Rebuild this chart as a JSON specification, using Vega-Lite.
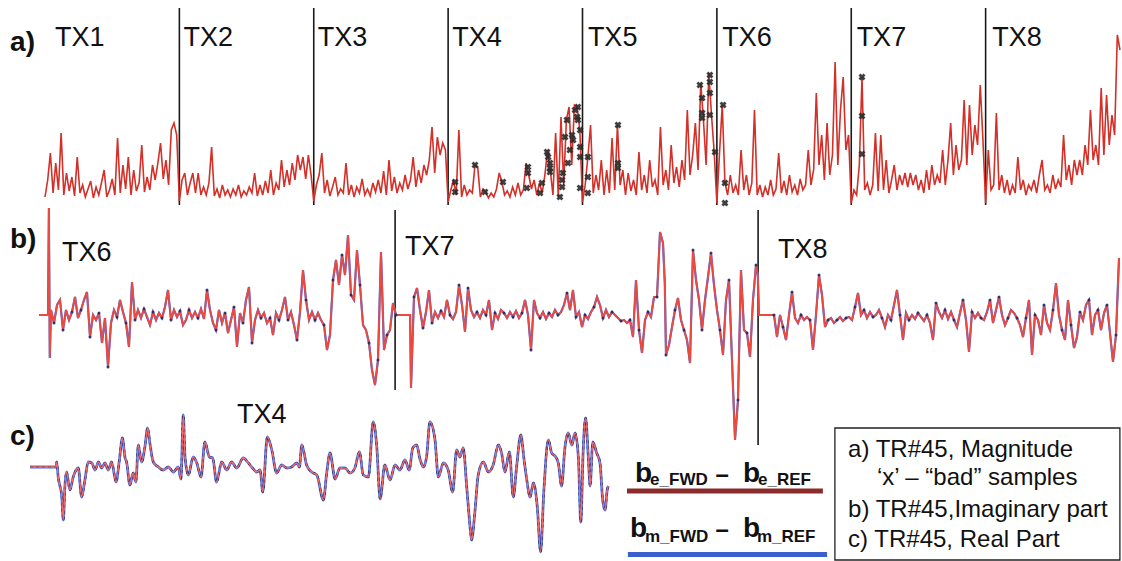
{
"$schema":"https://vega.github.io/schema/vega-lite/v6.json",
"padding":0,"background":"white","spacing":0,"bounds":"flush",
"config":{"view":{"stroke":null},"font":"Liberation Sans"},
"datasets":{
"a":[{"i":0,"v":0.8},{"i":1,"v":2.5},{"i":2,"v":5.2},{"i":3,"v":1.2},{"i":4,"v":4.2},{"i":5,"v":1.5},{"i":6,"v":7.2},{"i":7,"v":1.0},{"i":8,"v":3.2},{"i":9,"v":1.4},{"i":10,"v":2.8},{"i":11,"v":0.9},{"i":12,"v":4.8},{"i":13,"v":1.2},{"i":14,"v":2.0},{"i":15,"v":0.8},{"i":16,"v":1.6},{"i":17,"v":2.4},{"i":18,"v":0.7},{"i":19,"v":1.8},{"i":20,"v":1.0},{"i":21,"v":2.2},{"i":22,"v":3.5},{"i":23,"v":0.8},{"i":24,"v":1.5},{"i":25,"v":2.6},{"i":26,"v":1.0},{"i":27,"v":6.7},{"i":28,"v":1.2},{"i":29,"v":4.0},{"i":30,"v":1.6},{"i":31,"v":4.8},{"i":32,"v":1.0},{"i":33,"v":3.5},{"i":34,"v":1.4},{"i":35,"v":2.2},{"i":36,"v":6.0},{"i":37,"v":1.3},{"i":38,"v":2.8},{"i":39,"v":1.5},{"i":40,"v":4.0},{"i":41,"v":2.5},{"i":42,"v":4.2},{"i":43,"v":6.2},{"i":44,"v":2.6},{"i":45,"v":4.5},{"i":46,"v":2.0},{"i":47,"v":7.5},{"i":48,"v":8.2},{"i":49,"v":7.0},
{"i":50,"v":0.4},{"i":51,"v":2.5},{"i":52,"v":3.2},{"i":53,"v":1.0},{"i":54,"v":2.2},{"i":55,"v":3.2},{"i":56,"v":1.2},{"i":57,"v":3.2},{"i":58,"v":1.0},{"i":59,"v":1.8},{"i":60,"v":1.0},{"i":61,"v":2.2},{"i":62,"v":5.8},{"i":63,"v":0.9},{"i":64,"v":1.6},{"i":65,"v":0.7},{"i":66,"v":2.0},{"i":67,"v":1.0},{"i":68,"v":1.5},{"i":69,"v":0.8},{"i":70,"v":1.6},{"i":71,"v":1.0},{"i":72,"v":2.0},{"i":73,"v":0.8},{"i":74,"v":1.4},{"i":75,"v":1.0},{"i":76,"v":1.8},{"i":77,"v":1.2},{"i":78,"v":3.2},{"i":79,"v":0.9},{"i":80,"v":2.0},{"i":81,"v":1.0},{"i":82,"v":2.4},{"i":83,"v":1.2},{"i":84,"v":3.5},{"i":85,"v":1.0},{"i":86,"v":2.2},{"i":87,"v":1.5},{"i":88,"v":4.5},{"i":89,"v":1.8},{"i":90,"v":3.5},{"i":91,"v":2.0},{"i":92,"v":4.2},{"i":93,"v":2.5},{"i":94,"v":5.0},{"i":95,"v":3.5},{"i":96,"v":4.8},{"i":97,"v":2.6},{"i":98,"v":5.0},{"i":99,"v":3.0},
{"i":100,"v":0.4},{"i":101,"v":2.0},{"i":102,"v":3.0},{"i":103,"v":5.2},{"i":104,"v":1.2},{"i":105,"v":2.5},{"i":106,"v":0.9},{"i":107,"v":1.8},{"i":108,"v":2.8},{"i":109,"v":1.0},{"i":110,"v":1.6},{"i":111,"v":1.2},{"i":112,"v":4.2},{"i":113,"v":1.0},{"i":114,"v":2.0},{"i":115,"v":0.8},{"i":116,"v":1.8},{"i":117,"v":1.2},{"i":118,"v":2.6},{"i":119,"v":1.0},{"i":120,"v":1.6},{"i":121,"v":0.9},{"i":122,"v":2.2},{"i":123,"v":1.3},{"i":124,"v":2.5},{"i":125,"v":1.2},{"i":126,"v":3.4},{"i":127,"v":1.0},{"i":128,"v":4.5},{"i":129,"v":1.4},{"i":130,"v":2.8},{"i":131,"v":1.2},{"i":132,"v":2.2},{"i":133,"v":1.5},{"i":134,"v":3.0},{"i":135,"v":1.6},{"i":136,"v":2.5},{"i":137,"v":4.8},{"i":138,"v":1.8},{"i":139,"v":3.5},{"i":140,"v":2.2},{"i":141,"v":4.0},{"i":142,"v":3.0},{"i":143,"v":4.5},{"i":144,"v":7.8},{"i":145,"v":3.2},{"i":146,"v":6.8},{"i":147,"v":5.0},{"i":148,"v":6.2},{"i":149,"v":5.5},
{"i":150,"v":0.3},{"i":151,"v":1.5},{"i":152,"v":2.5},{"i":153,"v":1.0},{"i":154,"v":7.5},{"i":155,"v":0.8},{"i":156,"v":2.0},{"i":157,"v":1.0},{"i":158,"v":1.5},{"i":159,"v":1.2},{"i":160,"v":4.0},{"i":161,"v":3.8},{"i":162,"v":0.8},{"i":163,"v":1.6},{"i":164,"v":1.3},{"i":165,"v":0.7},{"i":166,"v":1.2},{"i":167,"v":0.8},{"i":168,"v":1.6},{"i":169,"v":3.2},{"i":170,"v":2.3},{"i":171,"v":1.0},{"i":172,"v":1.4},{"i":173,"v":0.8},{"i":174,"v":1.8},{"i":175,"v":1.0},{"i":176,"v":2.2},{"i":177,"v":1.0},{"i":178,"v":1.5},{"i":179,"v":4.2},{"i":180,"v":3.0},{"i":181,"v":1.6},{"i":182,"v":2.5},{"i":183,"v":1.0},{"i":184,"v":2.2},{"i":185,"v":1.2},{"i":186,"v":3.0},{"i":187,"v":5.5},{"i":188,"v":3.5},{"i":189,"v":1.0},{"i":190,"v":7.2},{"i":191,"v":0.8},{"i":192,"v":8.8},{"i":193,"v":2.0},{"i":194,"v":8.5},{"i":195,"v":9.8},{"i":196,"v":4.0},{"i":197,"v":10.0},{"i":198,"v":9.8},{"i":199,"v":7.5},
{"i":200,"v":0.3},{"i":201,"v":2.0},{"i":202,"v":4.8},{"i":203,"v":8.0},{"i":204,"v":1.2},{"i":205,"v":3.0},{"i":206,"v":1.5},{"i":207,"v":4.5},{"i":208,"v":1.0},{"i":209,"v":3.5},{"i":210,"v":1.2},{"i":211,"v":6.7},{"i":212,"v":1.5},{"i":213,"v":8.0},{"i":214,"v":2.0},{"i":215,"v":3.5},{"i":216,"v":1.0},{"i":217,"v":3.2},{"i":218,"v":1.4},{"i":219,"v":2.5},{"i":220,"v":1.0},{"i":221,"v":5.3},{"i":222,"v":1.5},{"i":223,"v":3.0},{"i":224,"v":1.2},{"i":225,"v":4.5},{"i":226,"v":1.8},{"i":227,"v":2.5},{"i":228,"v":1.0},{"i":229,"v":7.8},{"i":230,"v":2.0},{"i":231,"v":3.5},{"i":232,"v":1.5},{"i":233,"v":6.0},{"i":234,"v":2.2},{"i":235,"v":3.8},{"i":236,"v":1.8},{"i":237,"v":4.5},{"i":238,"v":2.5},{"i":239,"v":9.5},{"i":240,"v":3.0},{"i":241,"v":5.0},{"i":242,"v":8.2},{"i":243,"v":3.5},{"i":244,"v":12.2},{"i":245,"v":8.5},{"i":246,"v":4.0},{"i":247,"v":13.2},{"i":248,"v":9.0},{"i":249,"v":5.3},
{"i":250,"v":0.2},{"i":251,"v":5.3},{"i":252,"v":10.0},{"i":253,"v":2.2},{"i":254,"v":1.0},{"i":255,"v":3.0},{"i":256,"v":1.2},{"i":257,"v":2.0},{"i":258,"v":1.0},{"i":259,"v":5.5},{"i":260,"v":1.5},{"i":261,"v":3.0},{"i":262,"v":1.0},{"i":263,"v":2.2},{"i":264,"v":9.5},{"i":265,"v":1.0},{"i":266,"v":2.0},{"i":267,"v":0.8},{"i":268,"v":1.8},{"i":269,"v":1.0},{"i":270,"v":2.5},{"i":271,"v":1.0},{"i":272,"v":1.6},{"i":273,"v":5.2},{"i":274,"v":1.2},{"i":275,"v":2.4},{"i":276,"v":1.0},{"i":277,"v":3.0},{"i":278,"v":1.3},{"i":279,"v":2.0},{"i":280,"v":1.0},{"i":281,"v":2.6},{"i":282,"v":1.5},{"i":283,"v":2.0},{"i":284,"v":5.5},{"i":285,"v":2.0},{"i":286,"v":3.5},{"i":287,"v":11.2},{"i":288,"v":4.0},{"i":289,"v":7.0},{"i":290,"v":2.5},{"i":291,"v":8.2},{"i":292,"v":3.0},{"i":293,"v":5.0},{"i":294,"v":14.3},{"i":295,"v":4.0},{"i":296,"v":9.5},{"i":297,"v":12.8},{"i":298,"v":5.5},{"i":299,"v":7.0},
{"i":300,"v":0.2},{"i":301,"v":1.5},{"i":302,"v":1.0},{"i":303,"v":4.0},{"i":304,"v":12.8},{"i":305,"v":1.5},{"i":306,"v":2.2},{"i":307,"v":1.0},{"i":308,"v":2.0},{"i":309,"v":7.2},{"i":310,"v":1.4},{"i":311,"v":7.0},{"i":312,"v":1.5},{"i":313,"v":4.5},{"i":314,"v":1.2},{"i":315,"v":2.5},{"i":316,"v":4.0},{"i":317,"v":1.5},{"i":318,"v":3.0},{"i":319,"v":2.0},{"i":320,"v":3.2},{"i":321,"v":1.8},{"i":322,"v":3.2},{"i":323,"v":2.0},{"i":324,"v":3.0},{"i":325,"v":1.5},{"i":326,"v":2.5},{"i":327,"v":1.2},{"i":328,"v":3.5},{"i":329,"v":1.5},{"i":330,"v":4.0},{"i":331,"v":2.0},{"i":332,"v":3.0},{"i":333,"v":2.2},{"i":334,"v":5.5},{"i":335,"v":2.0},{"i":336,"v":4.5},{"i":337,"v":8.2},{"i":338,"v":3.0},{"i":339,"v":6.0},{"i":340,"v":3.5},{"i":341,"v":4.5},{"i":342,"v":10.5},{"i":343,"v":4.0},{"i":344,"v":10.0},{"i":345,"v":5.0},{"i":346,"v":8.0},{"i":347,"v":6.0},{"i":348,"v":12.0},{"i":349,"v":6.5},
{"i":350,"v":0.2},{"i":351,"v":5.5},{"i":352,"v":1.5},{"i":353,"v":2.0},{"i":354,"v":9.2},{"i":355,"v":1.5},{"i":356,"v":3.0},{"i":357,"v":1.2},{"i":358,"v":2.5},{"i":359,"v":1.0},{"i":360,"v":2.0},{"i":361,"v":1.2},{"i":362,"v":4.8},{"i":363,"v":1.5},{"i":364,"v":2.5},{"i":365,"v":1.0},{"i":366,"v":2.0},{"i":367,"v":1.5},{"i":368,"v":2.5},{"i":369,"v":1.2},{"i":370,"v":3.0},{"i":371,"v":4.5},{"i":372,"v":1.5},{"i":373,"v":2.0},{"i":374,"v":1.2},{"i":375,"v":3.0},{"i":376,"v":1.6},{"i":377,"v":2.5},{"i":378,"v":1.8},{"i":379,"v":7.0},{"i":380,"v":2.5},{"i":381,"v":4.0},{"i":382,"v":2.0},{"i":383,"v":4.5},{"i":384,"v":3.0},{"i":385,"v":4.5},{"i":386,"v":3.0},{"i":387,"v":6.0},{"i":388,"v":4.0},{"i":389,"v":9.5},{"i":390,"v":4.5},{"i":391,"v":6.0},{"i":392,"v":4.0},{"i":393,"v":11.7},{"i":394,"v":5.0},{"i":395,"v":11.0},{"i":396,"v":6.0},{"i":397,"v":9.0},{"i":398,"v":7.0},{"i":399,"v":17.0},{"i":400,"v":15.5}],
"ax":[{"i":152.6,"v":2.3},{"i":152.6,"v":1.3},{"i":160.0,"v":4.0},{"i":163.7,"v":1.3},{"i":170.4,"v":2.3},{"i":179.7,"v":3.8},{"i":179.7,"v":3.2},{"i":179.3,"v":1.7},{"i":184.2,"v":1.2},{"i":184.9,"v":2.2},{"i":186.8,"v":5.3},{"i":187.2,"v":4.8},{"i":187.9,"v":4.2},{"i":187.9,"v":3.7},{"i":187.9,"v":3.3},{"i":191.6,"v":0.8},{"i":192.4,"v":2.5},{"i":192.4,"v":1.8},{"i":192.7,"v":3.2},{"i":193.5,"v":6.8},{"i":194.2,"v":8.5},{"i":194.6,"v":4.2},{"i":195.3,"v":5.5},{"i":196.1,"v":7.0},{"i":196.5,"v":6.5},{"i":197.2,"v":9.5},{"i":198.0,"v":8.8},{"i":198.3,"v":9.8},{"i":198.3,"v":8.5},{"i":199.1,"v":7.5},{"i":199.1,"v":5.8},{"i":199.1,"v":4.8},{"i":199.1,"v":1.7},{"i":202.0,"v":4.8},{"i":202.0,"v":2.8},{"i":202.0,"v":1.2},{"i":213.2,"v":8.0},{"i":213.2,"v":4.2},{"i":213.2,"v":3.7},{"i":243.7,"v":12.0},{"i":244.5,"v":10.7},{"i":244.5,"v":9.2},{"i":244.5,"v":8.7},{"i":247.4,"v":13.0},{"i":247.4,"v":12.3},{"i":247.4,"v":11.2},{"i":247.4,"v":9.0},{"i":249.3,"v":5.3},{"i":252.3,"v":10.0},{"i":253.0,"v":2.2},{"i":253.0,"v":0.2},{"i":304.0,"v":12.8},{"i":304.0,"v":8.9},{"i":304.0,"v":5.1}],
"aDiv":[{"i":50,"v":19.7,"v2":0},{"i":100,"v":19.7,"v2":0},{"i":150,"v":19.7,"v2":0},{"i":200,"v":19.7,"v2":0},{"i":250,"v":19.7,"v2":0},{"i":300,"v":19.7,"v2":0},{"i":350,"v":19.7,"v2":0}],
"aLab":[{"i":3.7,"v":16.7,"t":"TX1"},{"i":51.5,"v":16.7,"t":"TX2"},{"i":101.5,"v":16.7,"t":"TX3"},{"i":151.5,"v":16.7,"t":"TX4"},{"i":202,"v":16.7,"t":"TX5"},{"i":252,"v":16.7,"t":"TX6"},{"i":302,"v":16.7,"t":"TX7"},{"i":352.5,"v":16.7,"t":"TX8"}],
"aLet":[{"i":-13,"v":16.2,"t":"a)"}],
"b":[{"i":-2,"v":0},{"i":1,"v":0},{"i":1.3,"v":10.7},{"i":1.6,"v":-4.3},{"i":2,"v":0.5},{"i":3,"v":-0.8},{"i":4,"v":1.0},{"i":5,"v":1.5},{"i":6,"v":-1.5},{"i":7,"v":0.5},{"i":8,"v":-0.5},{"i":9,"v":0.3},{"i":10,"v":1.8},{"i":11,"v":-0.3},{"i":12,"v":0.5},{"i":13,"v":1.5},{"i":14,"v":2.3},{"i":15,"v":-2.2},{"i":16,"v":0.0},{"i":17,"v":-0.5},{"i":18,"v":0.2},{"i":19,"v":-2.8},{"i":20,"v":-0.3},{"i":21,"v":-5.2},{"i":22,"v":-0.8},{"i":23,"v":0.5},{"i":24,"v":-0.2},{"i":25,"v":1.5},{"i":26,"v":0.3},{"i":27,"v":-0.8},{"i":28,"v":-3.2},{"i":29,"v":3.3},{"i":30,"v":-0.5},{"i":31,"v":0.5},{"i":32,"v":-0.3},{"i":33,"v":0.6},{"i":34,"v":-0.2},{"i":35,"v":-1.0},{"i":36,"v":0.3},{"i":37,"v":-0.5},{"i":38,"v":0.2},{"i":39,"v":-0.3},{"i":40,"v":0.8},{"i":41,"v":2.5},{"i":42,"v":-0.5},{"i":43,"v":0.5},{"i":44,"v":-0.2},{"i":45,"v":0.4},{"i":46,"v":-1.0},{"i":47,"v":-0.5},{"i":48,"v":0.5},{"i":49,"v":-0.3},{"i":50,"v":0.3},{"i":51,"v":-0.3},{"i":52,"v":0.6},{"i":53,"v":-0.4},{"i":54,"v":2.5},{"i":55,"v":0.5},{"i":56,"v":-0.8},{"i":57,"v":-1.5},{"i":58,"v":0.5},{"i":59,"v":-0.8},{"i":60,"v":0.2},{"i":61,"v":-1.8},{"i":62,"v":-0.5},{"i":63,"v":0.8},{"i":64,"v":-3.2},{"i":65,"v":0.2},{"i":66,"v":-0.8},{"i":67,"v":1.5},{"i":68,"v":2.8},{"i":69,"v":-2.8},{"i":70,"v":-0.5},{"i":71,"v":0.5},{"i":72,"v":-0.3},{"i":73,"v":0.2},{"i":74,"v":-0.8},{"i":75,"v":-0.3},{"i":76,"v":-2.0},{"i":77,"v":0.2},{"i":78,"v":-0.5},{"i":79,"v":0.5},{"i":80,"v":1.8},{"i":81,"v":-0.5},{"i":82,"v":0.3},{"i":83,"v":-1.0},{"i":84,"v":-2.5},{"i":85,"v":0.3},{"i":86,"v":4.5},{"i":87,"v":1.5},{"i":88,"v":-0.5},{"i":89,"v":0.3},{"i":90,"v":-0.5},{"i":91,"v":0.2},{"i":92,"v":-0.5},{"i":93,"v":-1.0},{"i":94,"v":-3.5},{"i":95,"v":-2.0},{"i":96,"v":3.5},{"i":97,"v":5.5},{"i":98,"v":3.0},{"i":99,"v":6.0},{"i":100,"v":4.0},{"i":101,"v":8.0},{"i":102,"v":2.0},{"i":103,"v":1.5},{"i":104,"v":6.5},{"i":105,"v":3.0},{"i":106,"v":-1.0},{"i":107,"v":-1.5},{"i":108,"v":-2.8},{"i":109,"v":-5.5},{"i":110,"v":-7.0},{"i":111,"v":-4.5},{"i":112,"v":6.3},{"i":113,"v":-3.5},{"i":114,"v":-2.0},{"i":115,"v":-1.5},{"i":116,"v":1.2},
{"i":117,"v":0},{"i":121.7,"v":0},{"i":122,"v":-7.3},{"i":123,"v":1.8},{"i":124,"v":2.7},{"i":125,"v":0.5},{"i":126,"v":-1.3},{"i":127,"v":0.3},{"i":128,"v":2.5},{"i":129,"v":-0.8},{"i":130,"v":0.3},{"i":131,"v":-0.3},{"i":132,"v":0.4},{"i":133,"v":-0.2},{"i":134,"v":1.5},{"i":135,"v":0.0},{"i":136,"v":-0.4},{"i":137,"v":0.3},{"i":138,"v":3.0},{"i":139,"v":1.0},{"i":140,"v":-1.7},{"i":141,"v":2.7},{"i":142,"v":0.5},{"i":143,"v":-0.2},{"i":144,"v":0.3},{"i":145,"v":-0.3},{"i":146,"v":0.5},{"i":147,"v":0.0},{"i":148,"v":1.5},{"i":149,"v":-1.5},{"i":150,"v":0.2},{"i":151,"v":-0.4},{"i":152,"v":0.5},{"i":153,"v":0.2},{"i":154,"v":-0.3},{"i":155,"v":0.3},{"i":156,"v":-0.2},{"i":157,"v":0.4},{"i":158,"v":-0.3},{"i":159,"v":0.2},{"i":160,"v":1.5},{"i":161,"v":0.0},{"i":162,"v":-3.5},{"i":163,"v":1.5},{"i":164,"v":0.2},{"i":165,"v":-0.3},{"i":166,"v":0.3},{"i":167,"v":-0.4},{"i":168,"v":0.2},{"i":169,"v":-0.2},{"i":170,"v":0.5},{"i":171,"v":0.0},{"i":172,"v":0.3},{"i":173,"v":1.0},{"i":174,"v":2.2},{"i":175,"v":0.5},{"i":176,"v":2.5},{"i":177,"v":-0.2},{"i":178,"v":0.3},{"i":179,"v":-1.2},{"i":180,"v":0.0},{"i":181,"v":-0.4},{"i":182,"v":0.3},{"i":183,"v":0.8},{"i":184,"v":1.8},{"i":185,"v":1.0},{"i":186,"v":-0.3},{"i":187,"v":0.5},{"i":188,"v":-0.2},{"i":189,"v":0.3},{"i":190,"v":0.0},{"i":191,"v":-0.3},{"i":192,"v":-0.6},{"i":193,"v":-0.5},{"i":194,"v":-0.8},{"i":195,"v":-0.5},{"i":196,"v":-2.2},{"i":197,"v":3.5},{"i":198,"v":-1.5},{"i":199,"v":-3.8},{"i":200,"v":-0.5},{"i":201,"v":0.3},{"i":202,"v":-0.2},{"i":203,"v":1.8},{"i":204,"v":1.8},{"i":205,"v":8.3},{"i":206,"v":7.2},{"i":206.6,"v":3.2},{"i":207,"v":-4.0},{"i":208,"v":-3.0},{"i":209,"v":-1.2},{"i":210,"v":0.5},{"i":211,"v":1.7},{"i":212,"v":-0.5},{"i":213,"v":-1.5},{"i":214,"v":-2.5},{"i":215,"v":-4.8},{"i":216,"v":6.5},{"i":217,"v":3.5},{"i":218,"v":1.5},{"i":219,"v":-1.5},{"i":220,"v":1.5},{"i":221,"v":3.8},{"i":222,"v":6.2},{"i":223,"v":3.0},{"i":224,"v":0.5},{"i":225,"v":-1.5},{"i":226,"v":-4.0},{"i":227,"v":1.5},{"i":228,"v":3.5},{"i":229,"v":-4.5},{"i":230,"v":-12.5},{"i":231,"v":-8.5},{"i":232,"v":4.5},{"i":233,"v":-1.5},{"i":234,"v":-1.8},{"i":235,"v":-4.2},{"i":236,"v":1.5},{"i":237,"v":5.0},{"i":237.6,"v":4.0},
{"i":238,"v":0},{"i":243,"v":0},{"i":244,"v":-2.2},{"i":245,"v":0.0},{"i":246,"v":-1.2},{"i":247,"v":-2.5},{"i":248,"v":0.0},{"i":249,"v":2.3},{"i":250,"v":-0.3},{"i":251,"v":-0.8},{"i":252,"v":0.0},{"i":253,"v":-0.5},{"i":254,"v":-0.2},{"i":255,"v":-0.5},{"i":256,"v":-3.5},{"i":257,"v":0.0},{"i":258,"v":4.0},{"i":259,"v":2.0},{"i":260,"v":-1.2},{"i":261,"v":-0.5},{"i":262,"v":-0.3},{"i":263,"v":-0.8},{"i":264,"v":-0.5},{"i":265,"v":-0.2},{"i":266,"v":-0.6},{"i":267,"v":-0.3},{"i":268,"v":-0.2},{"i":269,"v":-0.5},{"i":270,"v":0.8},{"i":271,"v":2.2},{"i":272,"v":0.0},{"i":273,"v":0.5},{"i":274,"v":-0.3},{"i":275,"v":0.3},{"i":276,"v":-0.2},{"i":277,"v":0.0},{"i":278,"v":0.5},{"i":279,"v":-0.3},{"i":280,"v":-1.2},{"i":281,"v":0.0},{"i":282,"v":-0.5},{"i":283,"v":1.0},{"i":284,"v":2.5},{"i":285,"v":0.0},{"i":286,"v":-2.5},{"i":287,"v":0.2},{"i":288,"v":-0.5},{"i":289,"v":0.0},{"i":290,"v":-0.4},{"i":291,"v":0.2},{"i":292,"v":-0.2},{"i":293,"v":-0.6},{"i":294,"v":0.0},{"i":295,"v":-0.8},{"i":296,"v":-2.5},{"i":297,"v":1.2},{"i":298,"v":0.3},{"i":299,"v":-0.3},{"i":300,"v":0.5},{"i":301,"v":-0.4},{"i":302,"v":0.3},{"i":303,"v":-0.5},{"i":304,"v":-1.2},{"i":305,"v":0.2},{"i":306,"v":1.5},{"i":307,"v":-0.5},{"i":308,"v":-3.7},{"i":309,"v":0.3},{"i":310,"v":-0.3},{"i":311,"v":0.2},{"i":312,"v":-0.3},{"i":313,"v":-0.5},{"i":314,"v":0.3},{"i":315,"v":1.5},{"i":316,"v":-0.8},{"i":317,"v":0.5},{"i":318,"v":1.8},{"i":319,"v":0.0},{"i":320,"v":-1.0},{"i":321,"v":-0.3},{"i":322,"v":0.5},{"i":323,"v":0.2},{"i":324,"v":-0.3},{"i":325,"v":-1.0},{"i":326,"v":-2.2},{"i":327,"v":-0.3},{"i":328,"v":1.5},{"i":329,"v":-4.0},{"i":330,"v":0.0},{"i":331,"v":-0.5},{"i":332,"v":-2.0},{"i":333,"v":1.0},{"i":334,"v":-0.8},{"i":335,"v":-1.5},{"i":336,"v":0.5},{"i":337,"v":3.2},{"i":338,"v":0.0},{"i":339,"v":-1.5},{"i":340,"v":-2.5},{"i":341,"v":1.5},{"i":342,"v":-1.0},{"i":343,"v":-3.3},{"i":344,"v":-2.2},{"i":345,"v":0.3},{"i":346,"v":-0.5},{"i":347,"v":1.0},{"i":348,"v":1.5},{"i":349,"v":-2.0},{"i":350,"v":0.0},{"i":351,"v":0.5},{"i":352,"v":-1.5},{"i":353,"v":0.2},{"i":354,"v":1.0},{"i":355,"v":-1.8},{"i":356,"v":-4.7},{"i":357,"v":-2.0},{"i":358,"v":5.7}],
"bDiv":[{"i":116.7,"v":10.5,"v2":-7.5},{"i":237.7,"v":10.5,"v2":-13}],
"bLab":[{"i":5.7,"v":6.2,"t":"TX6"},{"i":120,"v":6.8,"t":"TX7"},{"i":244.3,"v":6.5,"t":"TX8"}],
"bLet":[{"i":-11.7,"v":7.5,"t":"b)"}],
"c":[{"i":-5,"v":0},{"i":3.7,"v":0},{"i":3.9,"v":0.5},{"i":4.4,"v":-1.0},{"i":5.6,"v":-3.0},{"i":6.1,"v":-5.3},{"i":6.7,"v":-1.6},{"i":7.2,"v":-0.5},{"i":8.3,"v":-2.3},{"i":9.4,"v":-1.0},{"i":11.1,"v":-0.1},{"i":12.2,"v":-3.0},{"i":13.3,"v":-1.3},{"i":14.4,"v":0.5},{"i":15.6,"v":0.4},{"i":16.7,"v":-0.3},{"i":17.8,"v":0.5},{"i":18.9,"v":-0.1},{"i":20,"v":0.4},{"i":21.1,"v":-0.3},{"i":22.2,"v":0.5},{"i":23.7,"v":-1.5},{"i":24.8,"v":0.7},{"i":25.8,"v":2.9},{"i":26.7,"v":0.9},{"i":27.2,"v":0.5},{"i":28.3,"v":-1.8},{"i":29.4,"v":-0.6},{"i":30.3,"v":-1.5},{"i":31.1,"v":2.2},{"i":32.2,"v":0.5},{"i":33.3,"v":2.0},{"i":34.2,"v":3.9},{"i":35,"v":2.3},{"i":36.1,"v":0.5},{"i":37.8,"v":0.0},{"i":39.4,"v":-0.3},{"i":41.1,"v":0.0},{"i":42.8,"v":-0.5},{"i":44.4,"v":0.0},{"i":45.3,"v":-1.2},{"i":46.1,"v":5.2},{"i":46.7,"v":0.9},{"i":47.8,"v":-0.8},{"i":49.4,"v":1.0},{"i":50.6,"v":0.4},{"i":52,"v":-1.0},{"i":53.3,"v":2.5},{"i":54.8,"v":1.0},{"i":55.9,"v":0.9},{"i":57.2,"v":-1.5},{"i":58.9,"v":0.5},{"i":60.6,"v":-0.3},{"i":62.2,"v":0.5},{"i":63.9,"v":-0.1},{"i":66.1,"v":0.9},{"i":67.8,"v":0.4},{"i":68.9,"v":0.0},{"i":70.6,"v":-0.5},{"i":71.7,"v":-0.3},{"i":72.6,"v":-2.5},{"i":74.1,"v":3.0},{"i":75.6,"v":1.7},{"i":77.2,"v":-0.6},{"i":78.9,"v":0.2},{"i":80.6,"v":-0.1},{"i":82.2,"v":0.0},{"i":83.9,"v":0.4},{"i":84.8,"v":0.0},{"i":85.6,"v":2.2},{"i":87.2,"v":0.2},{"i":88.9,"v":-0.5},{"i":90.6,"v":-0.8},{"i":92.8,"v":-3.3},{"i":93.9,"v":-0.6},{"i":95,"v":1.4},{"i":96.7,"v":-1.2},{"i":98.3,"v":-0.1},{"i":100,"v":-0.1},{"i":101.7,"v":-0.6},{"i":103.3,"v":-0.1},{"i":104.8,"v":1.5},{"i":106.1,"v":-0.8},{"i":107.8,"v":-1.0},{"i":109.4,"v":4.5},{"i":110.6,"v":2.0},{"i":111.7,"v":-3.2},{"i":113.3,"v":0.2},{"i":115,"v":-1.3},{"i":116.7,"v":0.2},{"i":118.3,"v":-0.3},{"i":120,"v":0.7},{"i":121.4,"v":-0.3},{"i":122.6,"v":1.9},{"i":123.9,"v":2.2},{"i":125,"v":0.8},{"i":126.1,"v":0.0},{"i":127.2,"v":1.0},{"i":128.3,"v":4.5},{"i":130,"v":2.7},{"i":131.1,"v":-1.0},{"i":132.8,"v":0.4},{"i":134.4,"v":-0.3},{"i":135.9,"v":-2.5},{"i":137.2,"v":1.7},{"i":138.3,"v":1.0},{"i":139.4,"v":1.9},{"i":140.6,"v":-2.1},{"i":141.7,"v":-6.0},{"i":142.2,"v":-7.3},{"i":143.3,"v":-4.5},{"i":144.4,"v":-0.8},{"i":146.1,"v":0.5},{"i":147.8,"v":-0.5},{"i":149.4,"v":0.2},{"i":151.1,"v":2.2},{"i":152.2,"v":1.4},{"i":153.3,"v":-0.5},{"i":154.8,"v":1.5},{"i":156.1,"v":-3.0},{"i":157.2,"v":0.0},{"i":158.6,"v":3.2},{"i":159.7,"v":0.7},{"i":160.6,"v":-1.3},{"i":161.7,"v":-3.0},{"i":162.8,"v":-1.6},{"i":164.1,"v":-4.0},{"i":165.2,"v":-8.5},{"i":166.3,"v":-2.3},{"i":167.8,"v":2.7},{"i":168.9,"v":1.4},{"i":170,"v":1.1},{"i":171.1,"v":0.4},{"i":172.2,"v":-1.9},{"i":173.3,"v":1.9},{"i":174.4,"v":3.4},{"i":175.6,"v":2.2},{"i":176.7,"v":3.4},{"i":177.8,"v":0.9},{"i":178.6,"v":-5.5},{"i":179.4,"v":1.7},{"i":180.2,"v":4.9},{"i":181.1,"v":1.0},{"i":181.7,"v":-1.9},{"i":182.6,"v":2.5},{"i":183.9,"v":1.4},{"i":185,"v":0.4},{"i":185.9,"v":-3.3},{"i":186.7,"v":-4.3},{"i":187.4,"v":-2.3},{"i":187.8,"v":-1.9}],
"cLab":[{"i":64,"v":5.2,"t":"TX4"}],
"cLet":[{"i":-11.7,"v":3.0,"t":"c)"}],
"legLines":[{"i":194,"i2":259.3,"v":-2.4,"s":"e"},{"i":194.3,"i2":260.7,"v":-8.75,"s":"m"}],
"legB":[{"i":196.7,"v":-1.5,"t":"b"},{"i":232.7,"v":-1.5,"t":"b"},{"i":195,"v":-7.0,"t":"b"},{"i":232.7,"v":-7.0,"t":"b"}],
"legSub":[{"i":201.7,"v":-1.8,"t":"e_FWD"},{"i":237.7,"v":-1.8,"t":"e_REF"},{"i":200,"v":-7.5,"t":"m_FWD"},{"i":237.3,"v":-7.5,"t":"m_REF"}],
"legDash":[{"i":223.5,"v":-1.5,"t":"–"},{"i":223.5,"v":-7.0,"t":"–"}],
"box":[{"i":263.3,"i2":358.3,"v":3.9,"v2":-9.3}],
"boxText":[{"i":267.7,"v":1.7,"t":"a) TR#45, Magnitude"},{"i":277.3,"v":-1.1,"t":"‘x’ – “bad” samples"},{"i":267.7,"v":-4.3,"t":"b) TR#45,Imaginary part"},{"i":267.7,"v":-7.3,"t":"c) TR#45, Real Part"}]
},
"vconcat":[
{"width":1122,"height":205,
 "encoding":{"x":{"field":"i","type":"quantitative","scale":{"domain":[-16.744,400.744],"nice":false,"zero":false},"axis":null},
             "y":{"field":"v","type":"quantitative","scale":{"domain":[0,20.5],"nice":false,"zero":false},"axis":null}},
 "layer":[
  {"data":{"name":"aDiv"},"mark":{"type":"rule","color":"#1a1a1a","strokeWidth":1.6},"encoding":{"y2":{"field":"v2"}}},
  {"data":{"name":"a"},"mark":{"type":"line","color":"#d23028","strokeWidth":1.6},"encoding":{}},
  {"data":{"name":"ax"},"mark":{"type":"point","shape":"cross","angle":45,"filled":true,"color":"#2b2b2b","size":50,"opacity":0.9}},
  {"data":{"name":"aLab"},"mark":{"type":"text","align":"left","baseline":"middle","fontSize":27,"color":"#111111"},"encoding":{"text":{"field":"t"}}},
  {"data":{"name":"aLet"},"mark":{"type":"text","align":"left","baseline":"middle","fontSize":28,"fontWeight":"bold","color":"#111111"},"encoding":{"text":{"field":"t"}}}
 ]},
{"width":1122,"height":190,
 "encoding":{"x":{"field":"i","type":"quantitative","scale":{"domain":[-15,359],"nice":false,"zero":false},"axis":null},
             "y":{"field":"v","type":"quantitative","scale":{"domain":[-8,11],"nice":false,"zero":false},"axis":null}},
 "layer":[
  {"data":{"name":"bDiv"},"mark":{"type":"rule","color":"#1a1a1a","strokeWidth":1.6},"encoding":{"y2":{"field":"v2"}}},
  {"data":{"name":"b"},"mark":{"type":"line","color":"#4466dd","strokeWidth":2.2},"encoding":{}},
  {"data":{"name":"b"},"mark":{"type":"line","color":"#ec4a3f","strokeWidth":1.8},"encoding":{}},
  {"data":{"name":"b"},"transform":[{"filter":"datum.i % 3 == 0"}],"mark":{"type":"point","filled":true,"color":"#1c2a6e","size":9,"opacity":0.9}},
  {"data":{"name":"bLab"},"mark":{"type":"text","align":"left","baseline":"middle","fontSize":27,"color":"#111111"},"encoding":{"text":{"field":"t"}}},
  {"data":{"name":"bLet"},"mark":{"type":"text","align":"left","baseline":"middle","fontSize":28,"fontWeight":"bold","color":"#111111"},"encoding":{"text":{"field":"t"}}}
 ]},
{"width":1122,"height":166,
 "encoding":{"x":{"field":"i","type":"quantitative","scale":{"domain":[-15,359],"nice":false,"zero":false},"axis":null},
             "y":{"field":"v","type":"quantitative","scale":{"domain":[-9.4,7.2],"nice":false,"zero":false},"axis":null}},
 "layer":[
  {"data":{"name":"c"},"mark":{"type":"line","color":"#4a6ee0","strokeWidth":2.8,"interpolate":"monotone"},"encoding":{}},
  {"data":{"name":"c"},"mark":{"type":"line","color":"#1e1e46","strokeWidth":2,"strokeDash":[3,3],"interpolate":"monotone"},"encoding":{}},
  {"data":{"name":"c"},"mark":{"type":"line","color":"#f26a6a","strokeWidth":1.3,"interpolate":"monotone"},"encoding":{}},
  {"data":{"name":"cLab"},"mark":{"type":"text","align":"left","baseline":"middle","fontSize":27,"color":"#111111"},"encoding":{"text":{"field":"t"}}},
  {"data":{"name":"cLet"},"mark":{"type":"text","align":"left","baseline":"middle","fontSize":28,"fontWeight":"bold","color":"#111111"},"encoding":{"text":{"field":"t"}}},
  {"data":{"name":"legLines"},"mark":{"type":"rule","strokeWidth":5},"encoding":{"x2":{"field":"i2"},"color":{"field":"s","type":"nominal","scale":{"domain":["e","m"],"range":["#8b2b2b","#3a5fcf"]},"legend":null}}},
  {"data":{"name":"legB"},"mark":{"type":"text","align":"left","baseline":"alphabetic","fontSize":28,"fontWeight":"bold","color":"#111111"},"encoding":{"text":{"field":"t"}}},
  {"data":{"name":"legSub"},"mark":{"type":"text","align":"left","baseline":"alphabetic","fontSize":17,"fontWeight":"bold","color":"#111111"},"encoding":{"text":{"field":"t"}}},
  {"data":{"name":"legDash"},"mark":{"type":"text","align":"left","baseline":"alphabetic","fontSize":24,"fontWeight":"bold","color":"#111111"},"encoding":{"text":{"field":"t"}}},
  {"data":{"name":"box"},"mark":{"type":"rect","filled":false,"color":"#222222","strokeWidth":1.3},"encoding":{"x2":{"field":"i2"},"y2":{"field":"v2"}}},
  {"data":{"name":"boxText"},"mark":{"type":"text","align":"left","baseline":"middle","fontSize":24,"color":"#111111"},"encoding":{"text":{"field":"t"}}}
 ]}
]
}
